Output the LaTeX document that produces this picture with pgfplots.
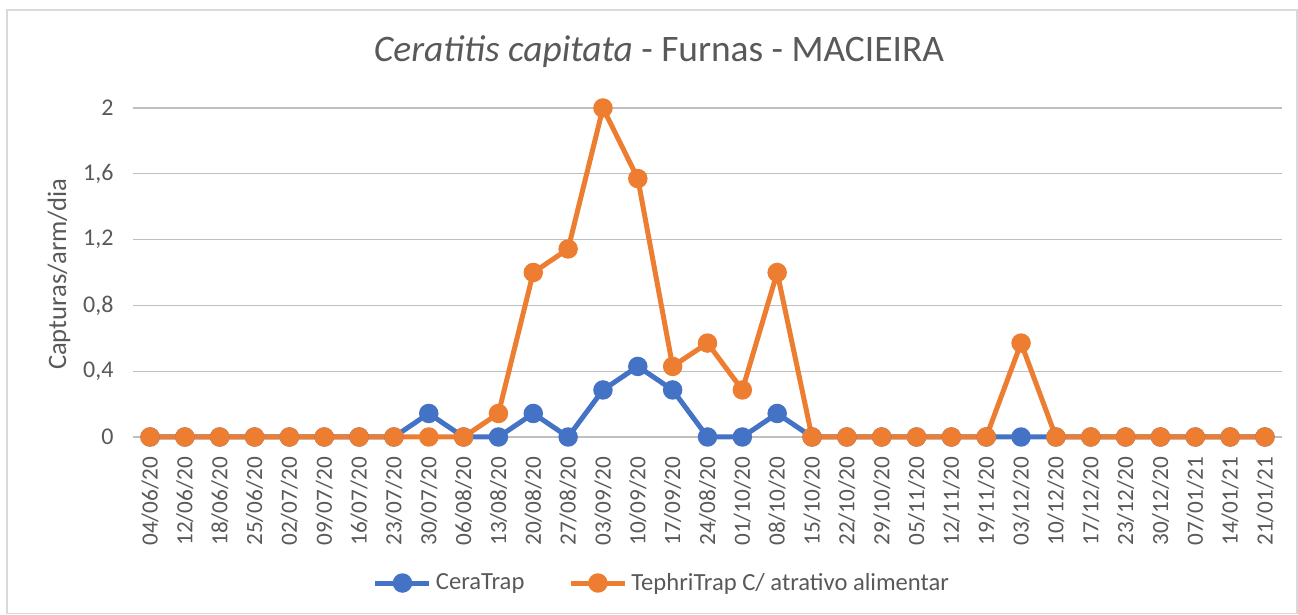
\documentclass[border=0pt]{standalone}
\usepackage{pgfplots}
\pgfplotsset{compat=1.18}
\usepackage{fontspec}
\setmainfont{Carlito}
\definecolor{txt}{HTML}{595959}
\definecolor{grid}{HTML}{D9D9D9}
\definecolor{cblue}{HTML}{4472C4}
\definecolor{corange}{HTML}{ED7D31}
\begin{document}
\begin{tikzpicture}[x=1pt,y=1pt]
% canvas (image px * 0.5pt), origin at plot-area lower-left (132.6px,437px)
\path[use as bounding box] (-66.3,-89) rectangle (582.7,218.5);
\draw[grid,line width=0.6pt] (-62.8,-88.3) rectangle (582.2,213.5);
\begin{axis}[
  at={(0,0)}, anchor=south west,
  scale only axis, width=574.9pt, height=164.5pt,
  xmin=-0.5, xmax=32.5, ymin=0, ymax=2,
  axis line style={draw=none},
  xtick={0,...,32},
  xticklabels={04/06/20,12/06/20,18/06/20,25/06/20,02/07/20,09/07/20,16/07/20,23/07/20,30/07/20,06/08/20,13/08/20,20/08/20,27/08/20,03/09/20,10/09/20,17/09/20,24/08/20,01/10/20,08/10/20,15/10/20,22/10/20,29/10/20,05/11/20,12/11/20,19/11/20,03/12/20,10/12/20,17/12/20,23/12/20,30/12/20,07/01/21,14/01/21,21/01/21},
  x tick label style={rotate=90, anchor=east, font=\fontsize{11.6}{14}\selectfont, text=txt},
  ytick={0,0.4,0.8,1.2,1.6,2},
  yticklabels={0,{0,4},{0,8},{1,2},{1,6},2},
  y tick label style={font=\fontsize{12}{14}\selectfont, text=txt},
  major tick length=0pt,
  xtick style={draw=none}, ytick style={draw=none},
  xmajorgrids=false,
  ymajorgrids, grid style={grid, line width=0.6pt},
  xticklabel shift=6.5pt, yticklabel shift=6pt,
  clip=false,
  legend columns=2,
  legend style={at={(0.4613,-0.4438)}, anchor=center, draw=none, fill=none,
    font=\fontsize{12.3}{14}\selectfont, text=txt,
    /tikz/every even column/.append style={column sep=20pt}},
  legend image code/.code={
    \draw[#1, mark=none] (0pt,0pt) -- (27pt,0pt);
    \draw[#1, only marks] plot coordinates {(13.5pt,0pt)};
  },
]
\addplot[cblue, line width=2.5pt, mark=*, mark size=3.6pt, mark options={solid}] coordinates {
(0,0)(1,0)(2,0)(3,0)(4,0)(5,0)(6,0)(7,0)(8,0.143)(9,0)(10,0)(11,0.143)(12,0)(13,0.286)(14,0.429)(15,0.286)(16,0)(17,0)(18,0.143)(19,0)(20,0)(21,0)(22,0)(23,0)(24,0)(25,0)(26,0)(27,0)(28,0)(29,0)(30,0)(31,0)(32,0)
};
\addlegendentry{CeraTrap}
\addplot[corange, line width=2.5pt, mark=*, mark size=3.6pt, mark options={solid}] coordinates {
(0,0)(1,0)(2,0)(3,0)(4,0)(5,0)(6,0)(7,0)(8,0)(9,0)(10,0.143)(11,1.0)(12,1.143)(13,2.0)(14,1.571)(15,0.429)(16,0.571)(17,0.286)(18,1.0)(19,0)(20,0)(21,0)(22,0)(23,0)(24,0)(25,0.571)(26,0)(27,0)(28,0)(29,0)(30,0)(31,0)(32,0)
};
\addlegendentry{TephriTrap C/ atrativo alimentar}
\node[font=\fontsize{18.7}{22}\selectfont, text=txt] at (axis description cs:0.4578,1.1702) {\textit{Ceratitis capitata} - Furnas - MACIEIRA};
\node[rotate=90, font=\fontsize{13.3}{16}\selectfont, text=txt] at (axis description cs:-0.0640,0.4950) {Capturas/arm/dia};
\end{axis}
\end{tikzpicture}
\end{document}
